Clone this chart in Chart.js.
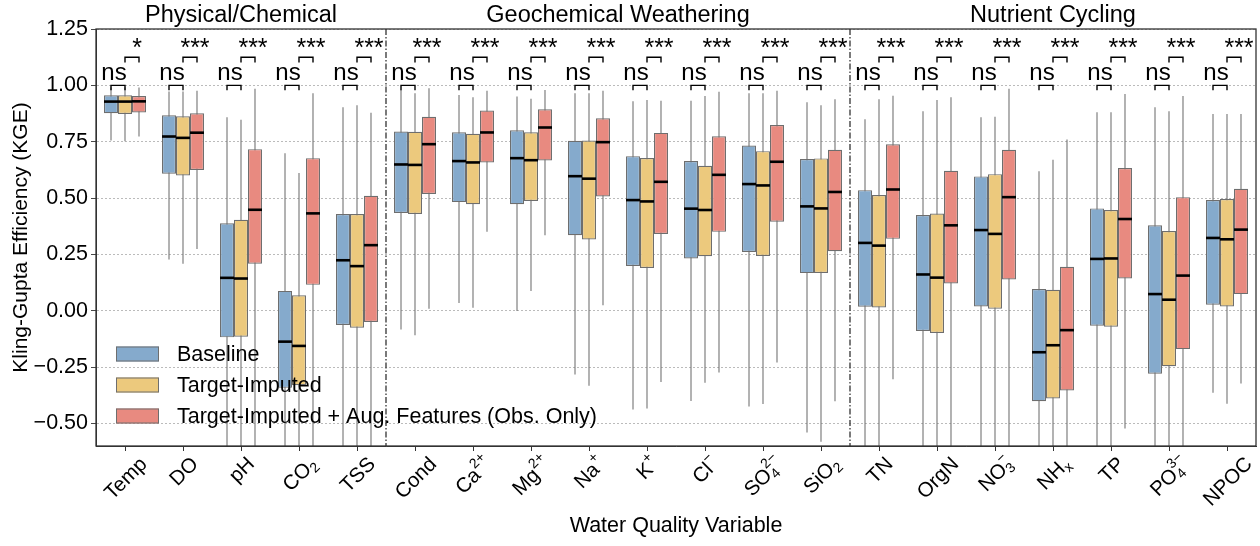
<!DOCTYPE html>
<html>
<head>
<meta charset="utf-8">
<script src="https://cdn.jsdelivr.net/npm/chart.js@4.4.1/dist/chart.umd.min.js"></script>
<style>html,body{margin:0;padding:0;background:#fff}canvas{display:block}</style>
</head>
<body>
<canvas id="kge" width="1260" height="546"></canvas>
<script>
/* KGE box plots per water quality variable, three model variants. */
var categories=['Temp','DO','pH','CO_{2}','TSS','Cond','Ca^{2+}','Mg^{2+}','Na^{+}','K^{+}','Cl^{\u2212}','SO_{4}^{2\u2212}','SiO_{2}','TN','OrgN','NO_{3}^{\u2212}','NH_{x}','TP','PO_{4}^{3\u2212}','NPOC'];
var sections=['Physical/Chemical','Geochemical Weathering','Nutrient Cycling'];
var sectionSizes=[5,8,7];
var seriesNames=['Baseline','Target-Imputed','Target-Imputed + Aug. Features (Obs. Only)'];
var seriesColors=['#85aacc','#ecc97d','#e88a80'];

// Baseline
var baseQ1 =[0.876,0.608,-0.118,-0.342,-0.063,0.434,0.482,0.473,0.335,0.199,0.232,0.261,0.167,0.018,-0.090,0.019,-0.401,-0.066,-0.279,0.027];
var baseMed=[0.928,0.773,0.146,-0.137,0.224,0.649,0.664,0.677,0.597,0.491,0.453,0.562,0.463,0.301,0.161,0.358,-0.184,0.230,0.074,0.323];
var baseQ3 =[0.956,0.867,0.388,0.088,0.429,0.795,0.792,0.801,0.754,0.686,0.664,0.733,0.673,0.535,0.425,0.596,0.096,0.454,0.379,0.491];
var baseLo =[0.755,0.227,-1.0,-1.0,-1.0,-0.083,0.034,-0.001,-0.283,-0.438,-0.400,-0.425,-0.540,-1.0,-1.0,-1.0,-1.0,-1.0,-1.0,-0.364];
var baseHi =[0.990,0.973,0.858,0.699,0.903,0.979,0.957,0.950,0.965,0.929,0.932,0.965,0.925,0.850,0.885,0.858,0.619,0.881,0.903,0.873];
// Target-Imputed
var impQ1 =[0.873,0.600,-0.115,-0.330,-0.075,0.429,0.473,0.487,0.316,0.190,0.242,0.243,0.168,0.015,-0.099,0.009,-0.389,-0.071,-0.246,0.019];
var impMed=[0.928,0.767,0.143,-0.156,0.198,0.647,0.658,0.668,0.586,0.485,0.447,0.556,0.454,0.289,0.147,0.341,-0.153,0.232,0.049,0.317];
var impQ3 =[0.956,0.863,0.404,0.069,0.429,0.794,0.785,0.792,0.755,0.678,0.643,0.708,0.676,0.513,0.431,0.606,0.093,0.447,0.354,0.496];
var impLo =[0.752,0.208,-1.0,-1.0,-1.0,-0.109,0.013,0.088,-0.333,-0.434,-0.319,-0.414,-0.581,-1.0,-1.0,-1.0,-1.0,-1.0,-1.0,-0.413];
var impHi =[0.990,0.973,0.847,0.611,0.912,0.965,0.947,0.941,0.965,0.935,0.953,0.965,0.912,0.938,0.935,0.861,0.670,0.881,0.885,0.873];
// Target-Imputed + Aug. Features
var augQ1 =[0.880,0.625,0.209,0.115,-0.050,0.518,0.658,0.667,0.507,0.341,0.350,0.395,0.264,0.319,0.121,0.139,-0.354,0.143,-0.170,0.074];
var augMed=[0.929,0.790,0.448,0.432,0.291,0.739,0.791,0.813,0.748,0.572,0.603,0.661,0.527,0.538,0.379,0.504,-0.086,0.407,0.156,0.360];
var augQ3 =[0.953,0.876,0.717,0.677,0.510,0.861,0.888,0.894,0.854,0.789,0.774,0.824,0.714,0.739,0.621,0.714,0.195,0.633,0.504,0.541];
var augLo =[0.773,0.274,-1.0,-1.0,-1.0,0.009,0.350,0.335,0.024,-0.316,-0.274,-0.230,-0.401,-0.304,-1.0,-1.0,-1.0,-0.522,-1.0,-0.323];
var augHi =[0.990,0.976,0.985,0.965,0.879,0.987,0.976,0.979,0.976,0.932,0.972,0.976,0.938,0.954,0.947,0.985,0.760,0.962,0.953,0.873];

// significance: baseline vs imputed, imputed vs augmented
var sigBaseImp=['ns','ns','ns','ns','ns','ns','ns','ns','ns','ns','ns','ns','ns','ns','ns','ns','ns','ns','ns','ns'];
var sigImpAug=['*','***','***','***','***','***','***','***','***','***','***','***','***','***','***','***','***','***','***','***'];
var sigLevels=[1.0,1.125];

var yMin=-0.6,yMax=1.25,yStep=0.25;

var FONT="'Liberation Sans', Arial, sans-serif";
var q1s=[baseQ1,impQ1,augQ1],q3s=[baseQ3,impQ3,augQ3],meds=[baseMed,impMed,augMed],los=[baseLo,impLo,augLo],his=[baseHi,impHi,augHi];

function parseLabel(s){
  var runs=[],re=/([_^])\{([^}]*)\}|([^_^]+)/g,m;
  while((m=re.exec(s))){
    if(m[1])runs.push({t:m[2],k:m[1]==='_'?'sub':'sup'});
    else runs.push({t:m[3],k:'base'});
  }
  return runs;
}

function drawLabel(ctx,s,cx,top){
  var runs=parseLabel(s),x=0,prev=null,placed=[],big=20.5,small=14;
  runs.forEach(function(r){
    ctx.font=(r.k==='base'?big:small)+'px '+FONT;
    var w=ctx.measureText(r.t).width,start=x;
    if(r.k==='sup'&&prev&&prev.k==='sub')start=prev.x;
    var p={t:r.t,k:r.k,x:start};
    placed.push(p);x=Math.max(x,start+w);prev=p;
  });
  var w=x,h=22,d=(w+h)/Math.SQRT2;
  ctx.save();
  ctx.translate(cx,top+d/2);
  ctx.rotate(-Math.PI/4);
  ctx.fillStyle='#000';ctx.textBaseline='alphabetic';ctx.textAlign='left';
  placed.forEach(function(p){
    ctx.font=(p.k==='base'?big:small)+'px '+FONT;
    var dy=p.k==='sub'?4:(p.k==='sup'?-10:0);
    ctx.fillText(p.t,-w/2+p.x,7.5+dy);
  });
  ctx.restore();
}

var boxExtras={
  id:'boxExtras',
  beforeDatasetsDraw:function(chart){
    var ctx=chart.ctx,ys=chart.scales.y,a=chart.chartArea;
    ctx.save();
    ctx.beginPath();ctx.rect(a.left,a.top,a.right-a.left,a.bottom-a.top);ctx.clip();
    ctx.strokeStyle='rgba(105,105,105,0.85)';ctx.lineWidth=1.2;
    for(var s=0;s<3;s++){
      chart.getDatasetMeta(s).data.forEach(function(el,j){
        ctx.beginPath();
        ctx.moveTo(el.x,ys.getPixelForValue(los[s][j]));
        ctx.lineTo(el.x,ys.getPixelForValue(his[s][j]));
        ctx.stroke();
      });
    }
    ctx.restore();
  },
  afterDatasetsDraw:function(chart){
    var ctx=chart.ctx,ys=chart.scales.y,xs=chart.scales.x,a=chart.chartArea;
    ctx.save();
    // medians
    ctx.strokeStyle='#000';ctx.lineWidth=2.6;
    for(var s=0;s<3;s++){
      chart.getDatasetMeta(s).data.forEach(function(el,j){
        var y=ys.getPixelForValue(meds[s][j]);
        ctx.beginPath();ctx.moveTo(el.x-el.width/2,y);ctx.lineTo(el.x+el.width/2,y);ctx.stroke();
      });
    }
    // group separators
    ctx.strokeStyle='#333';ctx.lineWidth=1.3;ctx.setLineDash([6,2,1.5,2]);
    var idx=0;
    for(var g=0;g<sectionSizes.length-1;g++){
      idx+=sectionSizes[g];
      var x=(xs.getPixelForValue(idx-1)+xs.getPixelForValue(idx))/2;
      ctx.beginPath();ctx.moveTo(x,a.top);ctx.lineTo(x,a.bottom);ctx.stroke();
    }
    ctx.restore();
  },
  afterDraw:function(chart){
    var ctx=chart.ctx,ys=chart.scales.y,xs=chart.scales.x,a=chart.chartArea;
    ctx.save();
    // frame
    ctx.strokeStyle='#333';ctx.lineWidth=1.3;
    ctx.strokeRect(a.left,a.top,a.right-a.left,a.bottom-a.top);
    // section titles
    ctx.fillStyle='#000';ctx.font='23.5px '+FONT;ctx.textAlign='center';ctx.textBaseline='alphabetic';
    var start=0;
    sections.forEach(function(t,g){
      var end=start+sectionSizes[g]-1;
      var cx=(xs.getPixelForValue(start)+xs.getPixelForValue(end))/2;
      ctx.fillText(t,cx,a.top-7);
      start=end+1;
    });
    // significance brackets
    var m0=chart.getDatasetMeta(0).data,m1=chart.getDatasetMeta(1).data,m2=chart.getDatasetMeta(2).data;
    var yA=ys.getPixelForValue(sigLevels[0]),yAl=ys.getPixelForValue(sigLevels[0]-0.022);
    var yB=ys.getPixelForValue(sigLevels[1]),yBl=ys.getPixelForValue(sigLevels[1]-0.024);
    ctx.strokeStyle='#000';ctx.lineWidth=1.4;
    for(var j=0;j<categories.length;j++){
      var xb=m0[j].x,xi=m1[j].x,xa=m2[j].x;
      ctx.beginPath();ctx.moveTo(xb,yAl);ctx.lineTo(xb,yA);ctx.lineTo(xi,yA);ctx.lineTo(xi,yAl);ctx.stroke();
      ctx.beginPath();ctx.moveTo(xi,yBl);ctx.lineTo(xi,yB);ctx.lineTo(xa,yB);ctx.lineTo(xa,yBl);ctx.stroke();
      ctx.font='24px '+FONT;
      ctx.fillText(sigBaseImp[j],(xb+xi)/2-4,yA-5);
      ctx.font='25px '+FONT;
      ctx.fillText(sigImpAug[j],(xi+xa)/2+5,yB-1);
    }
    // x tick labels
    categories.forEach(function(c,i){drawLabel(ctx,c,xs.getPixelForValue(i),xs.top+6);});
    // legend
    ctx.font='21.5px '+FONT;ctx.textAlign='left';ctx.textBaseline='middle';
    seriesNames.forEach(function(n,i){
      var cy=a.bottom-92+i*31;
      ctx.fillStyle=seriesColors[i];ctx.fillRect(a.left+20,cy-7.5,43,15);
      ctx.strokeStyle='#6e6e6e';ctx.lineWidth=1;ctx.strokeRect(a.left+20.5,cy-7,42,14);
      ctx.fillStyle='#000';ctx.fillText(n,a.left+81,cy+1);
    });
    ctx.restore();
  }
};

var datasets=seriesNames.map(function(n,s){
  return {
    label:n,
    data:q1s[s].map(function(v,j){return [v,q3s[s][j]];}),
    backgroundColor:seriesColors[s],
    borderColor:'#6e6e6e',borderWidth:1.2,borderSkipped:false,
    categoryPercentage:0.724,barPercentage:1.0
  };
});

new Chart(document.getElementById('kge').getContext('2d'),{
  type:'bar',
  data:{labels:categories,datasets:datasets},
  options:{
    responsive:false,animation:false,devicePixelRatio:1,
    layout:{padding:{top:29,right:4,left:0,bottom:0}},
    plugins:{legend:{display:false},tooltip:{enabled:false}},
    scales:{
      x:{
        grid:{display:true,drawOnChartArea:false,drawTicks:true,tickLength:5,tickColor:'#333',offset:false},
        border:{display:true,color:'#333'},
        ticks:{display:false},
        title:{display:true,text:'Water Quality Variable',color:'#000',font:{family:FONT,size:21.5},padding:{top:0,bottom:7}},
        afterFit:function(sc){sc.height=100;}
      },
      y:{
        min:yMin,max:yMax,
        ticks:{stepSize:yStep,includeBounds:false,color:'#000',font:{family:FONT,size:21.5},padding:3,
          callback:function(v){return (v<-1e-9?'\u2212':'')+Math.abs(v).toFixed(2);}},
        grid:{color:'#b4b4b4',lineWidth:0.9,drawTicks:true,tickLength:5,tickColor:'#333'},
        border:{display:true,color:'#333',dash:[2,2]},
        title:{display:true,text:'Kling-Gupta Efficiency (KGE)',color:'#000',font:{family:FONT,size:21},padding:{top:9,bottom:0}},
        afterFit:function(sc){sc.width=96;}
      }
    }
  },
  plugins:[boxExtras]
});
</script>
</body>
</html>
